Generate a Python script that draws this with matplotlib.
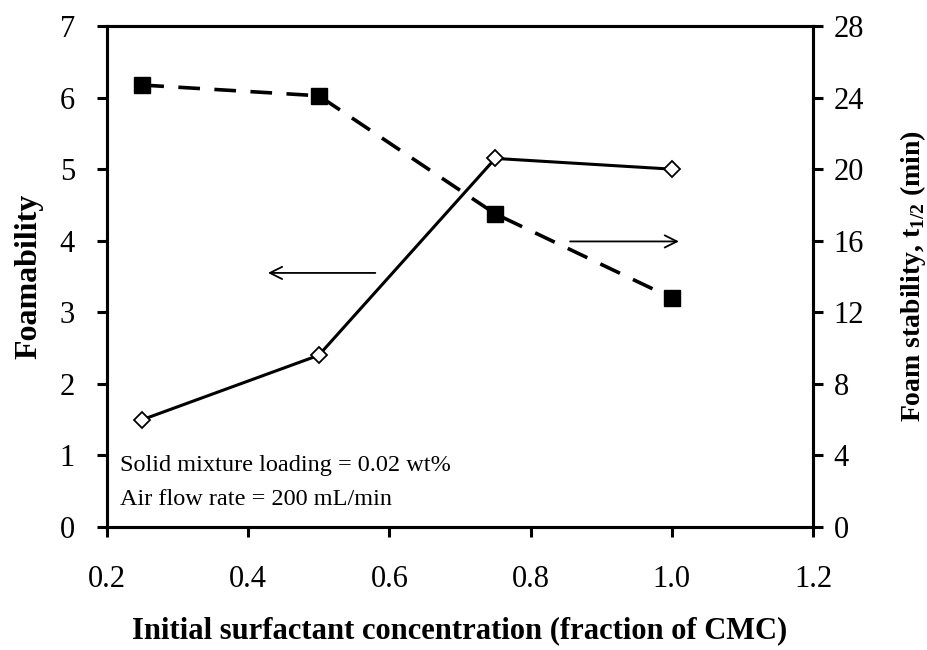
import matplotlib
matplotlib.use('Agg')
import matplotlib.pyplot as plt

plt.rcParams['font.family'] = ['Liberation Serif', 'DejaVu Serif']
plt.rcParams['mathtext.fontset'] = 'custom'
plt.rcParams['mathtext.rm'] = 'Liberation Serif'
plt.rcParams['mathtext.bf'] = 'Liberation Serif:bold'

# Data
conc = [0.25, 0.5, 0.75, 1.0]
foamability = [1.5, 2.4, 5.15, 5.0]
stability = [24.7, 24.1, 17.5, 12.8]

x_ticks = [0.2, 0.4, 0.6, 0.8, 1.0, 1.2]
x_ticklabels = ['0.2', '0.4', '0.6', '0.8', '1.0', '1.2']
left_ticks = [0, 1, 2, 3, 4, 5, 6, 7]
right_ticks = [0, 4, 8, 12, 16, 20, 24, 28]

fig = plt.figure(figsize=(9.28, 6.5), dpi=100)
ax = fig.add_axes([0.1153, 0.1892, 0.7608, 0.7708])
ax2 = ax.twinx()

ax.plot(conc, foamability, '-', color='black', lw=2.2, marker='D',
        markersize=8.5, markerfacecolor='white', markeredgecolor='black',
        markeredgewidth=1.3, zorder=3)
ax2.plot(conc, stability, '--', color='black', lw=2.6, dashes=(6, 4),
         marker='s', markersize=11, markerfacecolor='black', zorder=3)

ax.set_xlim(0.2, 1.2)
ax.set_ylim(0, 7)
ax2.set_ylim(0, 28)
ax.set_xticks(x_ticks)
ax.set_xticklabels(x_ticklabels)
ax.set_yticks(left_ticks)
ax2.set_yticks(right_ticks)

for a in (ax, ax2):
    for s in a.spines.values():
        s.set_linewidth(2.2)
    a.tick_params(direction='out', width=2.2, length=7, labelsize=22)
ax.tick_params(axis='x', pad=20)
ax.tick_params(axis='y', pad=16)
ax2.tick_params(axis='y', pad=8)

ax.set_xlabel('Initial surfactant concentration (fraction of CMC)',
              fontsize=22, fontweight='bold', labelpad=16)
ax.set_ylabel('Foamability', fontsize=23, fontweight='bold', labelpad=12)
ax2.set_ylabel(r'Foam stability, t$_{\mathbf{1/2}}$ (min)', fontsize=20,
               fontweight='bold', labelpad=24)

# direction arrows
ax.annotate('', xy=(0.424, 3.55), xytext=(0.584, 3.55),
            arrowprops=dict(arrowstyle='->', lw=1.3, color='black',
                            mutation_scale=22))
ax.annotate('', xy=(1.014, 3.99), xytext=(0.852, 3.99),
            arrowprops=dict(arrowstyle='->', lw=1.3, color='black',
                            mutation_scale=22))

ax.text(0.218, 0.86, 'Solid mixture loading = 0.02 wt%', fontsize=17.5,
        va='center')
ax.text(0.218, 0.39, 'Air flow rate = 200 mL/min', fontsize=17.5, va='center')

fig.savefig('out.png', dpi=100)
